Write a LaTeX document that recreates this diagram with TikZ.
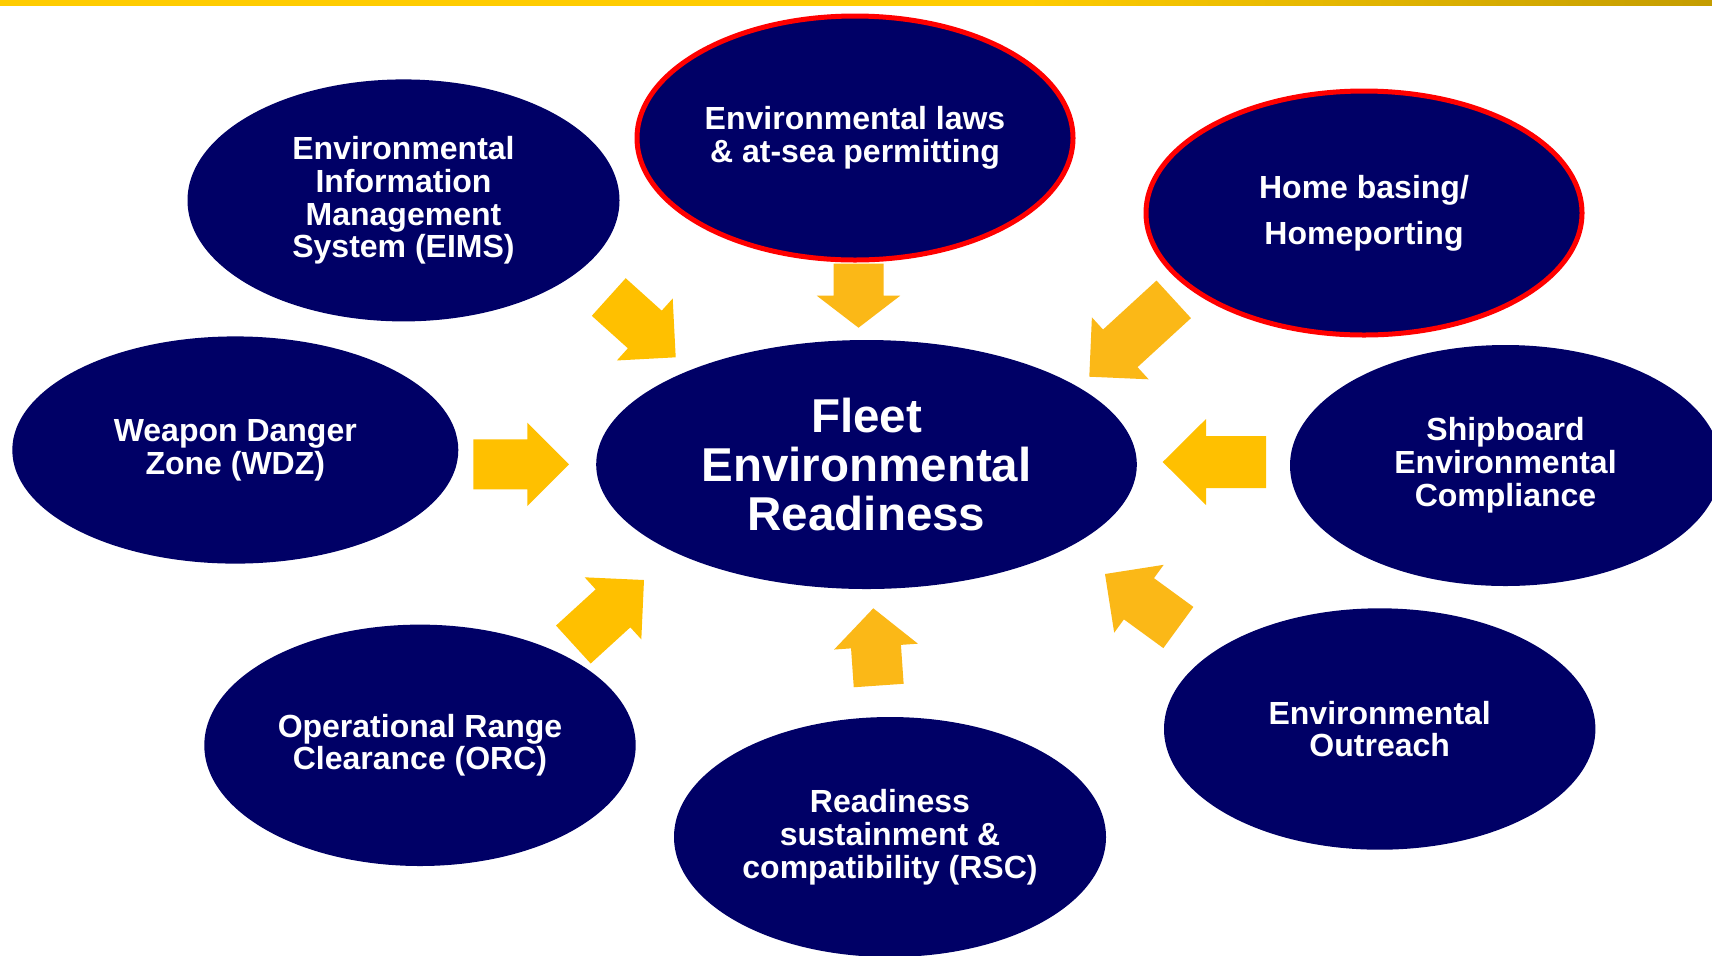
\documentclass[tikz,border=0pt]{standalone}
\usepackage{fontspec}
\setmainfont{Liberation Sans}
\usetikzlibrary{shapes.geometric}
\definecolor{navy}{HTML}{000066}
\definecolor{yelA}{HTML}{FFC000}
\definecolor{yelB}{HTML}{FBB817}
\definecolor{barY}{HTML}{FFCC00}
\definecolor{barD}{HTML}{7A6100}
\pgfdeclarehorizontalshading{topbar}{100bp}{color(0bp)=(barY); color(55bp)=(barY); color(100bp)=(barD)}
% tip x, tip y, angle, head length, head half width, shaft half width, shaft length, colour
\newcommand\blockarr[8]{%
  \begin{scope}[shift={(#1,#2)},rotate=#3]
    \fill[#8] (0,0) -- (-#4,#5) -- (-#4,#6) -- ({-#4-#7},#6) -- ({-#4-#7},-#6)
      -- (-#4,-#6) -- (-#4,-#5) -- cycle;
  \end{scope}}
\tikzset{
  bubble/.style={ellipse, fill=navy, inner sep=0pt, text=white, align=center,
    font=\bfseries\fontsize{16}{16.4}\selectfont},
  redrim/.style={draw=red, line width=2.5pt},
}
\begin{document}
\begin{tikzpicture}[x=0.5pt,y=-0.5pt]
\clip (0,0) rectangle (1712,955);
\fill[white] (0,0) rectangle (1712,955);
\shade[shading=topbar] (0,0) rectangle (1712,5);

% arrows
\blockarr{569}{464.3}{0}{41.7}{41.7}{25}{54}{yelA}
\blockarr{1162.7}{462}{180}{43.3}{43}{26}{60}{yelA}
\blockarr{858.5}{327.7}{-90}{32}{41.7}{25}{32}{yelB}
\blockarr{873.3}{608.3}{94}{38.4}{42}{25}{39}{yelB}
\blockarr{675.7}{357.3}{-42}{41.6}{41.7}{25.3}{48.5}{yelA}
\blockarr{644}{580}{42.4}{42}{42}{25.7}{53.7}{yelA}
\blockarr{1089.3}{376.7}{222.5}{42}{42}{25.5}{72.5}{yelB}
\blockarr{1105}{574}{143.9}{42}{42}{25.5}{48.8}{yelB}

% ellipses
\node[bubble, minimum width=216pt, minimum height=121pt] (eims) at (403.5,200.4)
  {Environmental\\Information\\Management\\System (EIMS)};
\node[bubble, redrim, minimum width=218pt, minimum height=122pt] (laws) at (855,138)
  {Environmental laws\\\& at-sea permitting};
\node[bubble, redrim, minimum width=218pt, minimum height=122pt,
  font=\bfseries\fontsize{16}{22.85}\selectfont] (home) at (1364,213)
  {Home basing/\\Homeporting};
\node[bubble, minimum width=223pt, minimum height=113.6pt] (wdz) at (235.3,450)
  {Weapon Danger\\Zone (WDZ)};
\node[bubble, minimum width=270.3pt, minimum height=124.5pt,
  font=\bfseries\fontsize{23.75}{24.6}\selectfont] (fer) at (866.5,464.5)
  {Fleet\\Environmental\\Readiness};
\node[bubble, minimum width=215.5pt, minimum height=120.5pt] (ship) at (1505.5,465.5)
  {Shipboard\\Environmental\\Compliance};
\node[bubble, minimum width=215.7pt, minimum height=120.7pt] (orc) at (420,745.3)
  {Operational Range\\Clearance (ORC)};
\node[bubble, minimum width=216pt, minimum height=120pt] (rsc) at (890,837)
  {Readiness\\sustainment \&\\compatibility (RSC)};
\node[bubble, minimum width=215.7pt, minimum height=120.7pt] (outr) at (1379.7,729)
  {Environmental\\Outreach};
\end{tikzpicture}
\end{document}
